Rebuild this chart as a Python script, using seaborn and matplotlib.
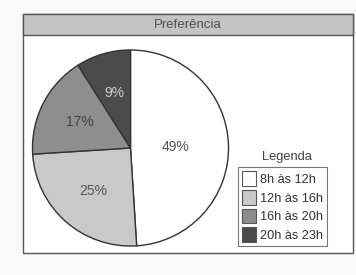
import matplotlib
matplotlib.use("Agg")
import matplotlib.pyplot as plt
import seaborn as sns
from matplotlib.patches import Rectangle, Patch

sns.set_theme(style="white")
plt.rcParams['font.family'] = ['Liberation Sans', 'DejaVu Sans']

categories = ["8h às 12h", "12h às 16h", "16h às 20h", "20h às 23h"]
values = [49, 25, 17, 9]
colors = ["#ffffff", "#c9c9c9", "#8e8e8e", "#4b4b4b"]
label_colors = ["#555555", "#555555", "#444444", "#cfcfcf"]
title = "Preferência"
legend_title = "Legenda"

W, H = 356, 275
fig = plt.figure(figsize=(W / 100, H / 100), dpi=100)
fig.patch.set_facecolor("#f9f9f9")

def fx(px): return px / W
def fy(py): return 1 - py / H

# outer box
fig.patches.append(Rectangle((fx(23), fy(253)), fx(353) - fx(23), fy(14) - fy(253),
                             transform=fig.transFigure, facecolor="white",
                             edgecolor="#555555", lw=1.0, zorder=-2))
# title band
fig.patches.append(Rectangle((fx(23), fy(35)), fx(353) - fx(23), fy(14) - fy(35),
                             transform=fig.transFigure, facecolor="#c4c4c4",
                             edgecolor="#555555", lw=1.0, zorder=-1))
fig.text(fx(188), fy(24.5), title, ha="center", va="center", fontsize=9.5, color="#505050")

cx, cy, r = 130.5, 148, 99
ax = fig.add_axes([fx(cx - r), fy(cy + r), 2 * r / W, 2 * r / H])
ax.set_zorder(2)
ax.patch.set_alpha(0)
wedges, texts, autotexts = ax.pie(values, colors=colors, startangle=90, counterclock=False,
                                  autopct="%d%%", pctdistance=0.58,
                                  wedgeprops=dict(edgecolor="#333333", linewidth=1.0),
                                  textprops=dict(fontsize=10))
for t, c in zip(autotexts, label_colors):
    t.set_color(c)
autotexts[0].set_position((0.46, 0.01))
ax.set_aspect("equal")
ax.set_xlim(-1.01, 1.01)
ax.set_ylim(-1.01, 1.01)
ax.axis("off")

# legend
fig.text(fx(287), fy(157), legend_title, ha="center", va="center", fontsize=9.3, color="#444444")
handles = [Patch(facecolor=c, edgecolor="#555555", lw=0.8) for c in colors]
leg = fig.legend(handles, categories, loc="upper left",
                 bbox_to_anchor=(fx(238), fy(167)), bbox_transform=fig.transFigure,
                 frameon=True, fontsize=9.2, handlelength=1.05, handleheight=1.4,
                 handletextpad=0.3, labelspacing=0.3, borderpad=0.35, borderaxespad=0,
                 fancybox=False)
leg.get_frame().set_edgecolor("#555555")
leg.get_frame().set_linewidth(0.8)
leg.set_zorder(3)
for t in leg.get_texts():
    t.set_color("#333333")

fig.savefig("out.png", dpi=100)
